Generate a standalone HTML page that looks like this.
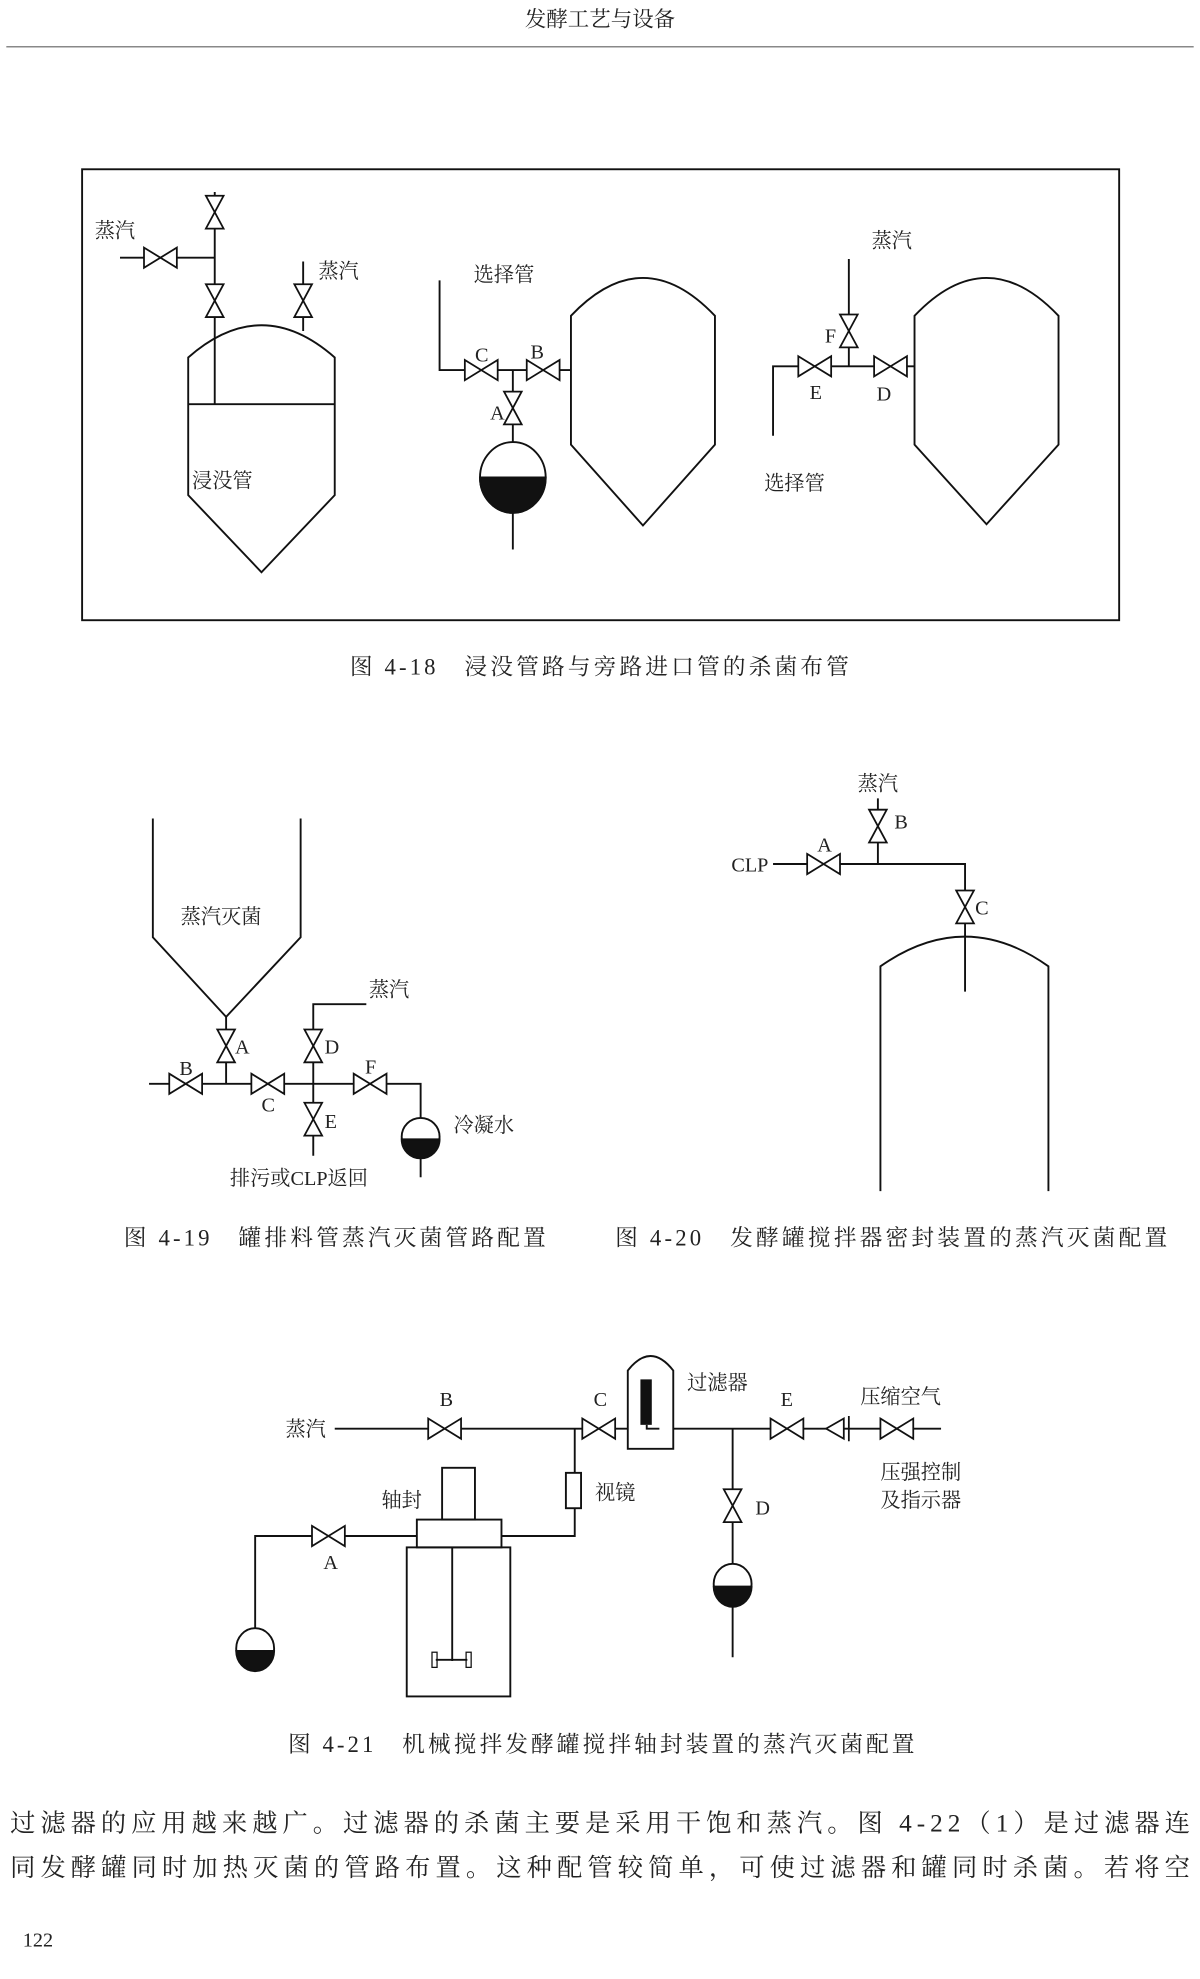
<!DOCTYPE html>
<html><head><meta charset="utf-8"><style>
html,body{margin:0;padding:0;background:#fff;}
svg{display:block;}
text{font-family:"Liberation Serif","Noto Serif CJK SC",serif;fill:#222;}
</style></head><body>
<svg width="1200" height="1979" viewBox="0 0 950 1566.7" xmlns="http://www.w3.org/2000/svg">
<defs>
<g id="hv"><polygon points="-13,-8 13,8 13,-8 -13,8" fill="#fff" stroke="#111" stroke-width="1.4"/></g>
<g id="vv"><polygon points="-7,-13 7,13 -7,13 7,-13" fill="#fff" stroke="#111" stroke-width="1.4"/></g>
</defs>
<g stroke="#111" stroke-width="1.5" fill="none">
<line x1="5" y1="37" x2="945" y2="37" stroke="#888" stroke-width="1.2"/>
<rect x="65" y="134" width="821" height="357"/>
<path d="M149,392 V283 Q207,232 265,283 V392 L207,453 Z"/>
<line x1="149" y1="320" x2="265" y2="320"/>
<line x1="170" y1="320" x2="170" y2="152"/>
<line x1="95" y1="204" x2="170" y2="204"/>
<line x1="240" y1="207" x2="240" y2="262"/>
<path d="M452,352 V250 Q509,190 566,250 V352 L509,416 Z"/>
<polyline points="348,222 348,293 452,293"/>
<line x1="406" y1="293" x2="406" y2="352"/>
<line x1="406" y1="404" x2="406" y2="435"/>
<path d="M724,352 V250 Q781,190 838,250 V352 L781,415 Z"/>
<polyline points="612,345 612,290 724,290"/>
<line x1="672" y1="290" x2="672" y2="205"/>
<polyline points="121,648 121,742 179,805 238,742 238,648"/>
<line x1="179" y1="805" x2="179" y2="858"/>
<polyline points="118,858 333,858 333,885"/>
<line x1="333" y1="915" x2="333" y2="932"/>
<polyline points="290,795 248,795 248,915"/>
<path d="M697,943 V765 Q764,718 830,765 V943"/>
<polyline points="612,684 764,684 764,785"/>
<line x1="695" y1="684" x2="695" y2="632"/>
<line x1="265" y1="1131" x2="497" y2="1131"/>
<line x1="533" y1="1131" x2="745" y2="1131"/>
<polyline points="455,1131 455,1216 397,1216"/>
<rect x="448" y="1166" width="12" height="28" fill="#fff"/>
<path d="M497,1147 V1085 Q515,1062 533,1085 V1147 Z"/>
<polyline points="512,1128 512,1131 522,1131"/>
<line x1="580" y1="1131" x2="580" y2="1312"/>
<rect x="350" y="1162" width="26" height="41"/>
<rect x="330" y="1203" width="67" height="22"/>
<rect x="322" y="1225" width="82" height="118"/>
<line x1="358" y1="1225" x2="358" y2="1315"/>
<line x1="345" y1="1314" x2="370" y2="1314"/>
<rect x="342" y="1308" width="4" height="12" stroke-width="1"/>
<rect x="369" y="1308" width="4" height="12" stroke-width="1"/>
<polyline points="330,1216 202,1216 202,1292"/>
</g>
<rect x="507" y="1092" width="9" height="36" fill="#111"/>
<g stroke="#111" stroke-width="1.5">
<ellipse cx="406" cy="378" rx="26" ry="28" fill="#fff"/>
<path d="M380,378 A26,28 0 0 0 432,378 Z" fill="#111"/>
<ellipse cx="333" cy="900" rx="15" ry="15" fill="#fff"/>
<path d="M318,902 A15,15 0 0 0 348,902 Z" fill="#111"/>
<ellipse cx="580" cy="1254" rx="15" ry="16" fill="#fff"/>
<path d="M565,1256 A15,16 0 0 0 595,1256 Z" fill="#111"/>
<ellipse cx="202" cy="1305" rx="15" ry="16" fill="#fff"/>
<path d="M187,1307 A15,16 0 0 0 217,1307 Z" fill="#111"/>
</g>
<use href="#vv" x="170" y="168"/><use href="#vv" x="170" y="238"/>
<use href="#hv" x="127" y="204"/><use href="#vv" x="240" y="238"/>
<use href="#hv" x="381" y="293"/><use href="#hv" x="430" y="293"/><use href="#vv" x="406" y="323"/>
<use href="#hv" x="645" y="290"/><use href="#hv" x="705" y="290"/><use href="#vv" x="672" y="262"/>
<use href="#vv" x="179" y="828"/><use href="#hv" x="147" y="858"/><use href="#hv" x="212" y="858"/>
<use href="#vv" x="248" y="828"/><use href="#vv" x="248" y="886"/><use href="#hv" x="293" y="858"/>
<use href="#hv" x="652" y="684"/><use href="#vv" x="695" y="654"/><use href="#vv" x="764" y="718"/>
<use href="#hv" x="352" y="1131"/><use href="#hv" x="474" y="1131"/><use href="#hv" x="623" y="1131"/>
<use href="#hv" x="710" y="1131"/><use href="#vv" x="580" y="1192"/><use href="#hv" x="260" y="1216"/>
<g stroke="#111" stroke-width="1.4" fill="#fff"><polygon points="654,1131 668,1123 668,1139"/><line x1="672" y1="1121" x2="672" y2="1141"/></g>
<text x="475" y="21" font-size="17" text-anchor="middle">发酵工艺与设备</text>
<g font-size="16">
<text x="75" y="188">蒸汽</text><text x="252" y="220">蒸汽</text><text x="152" y="386">浸没管</text>
<text x="375" y="223">选择管</text><text x="376" y="286">C</text><text x="420" y="284">B</text><text x="388" y="332">A</text>
<text x="690" y="196">蒸汽</text><text x="653" y="271">F</text><text x="641" y="316">E</text><text x="694" y="317">D</text><text x="605" y="388">选择管</text>
<text x="143" y="731">蒸汽灭菌</text><text x="292" y="789">蒸汽</text><text x="186" y="834">A</text><text x="142" y="851">B</text>
<text x="207" y="880">C</text><text x="257" y="834">D</text><text x="257" y="893">E</text><text x="289" y="850">F</text>
<text x="359" y="896">冷凝水</text><text x="182" y="938">排污或CLP返回</text>
<text x="679" y="626">蒸汽</text><text x="708" y="656">B</text><text x="647" y="674">A</text><text x="579" y="690">CLP</text><text x="772" y="724">C</text>
<text x="226" y="1137">蒸汽</text><text x="348" y="1113">B</text><text x="470" y="1113">C</text><text x="544" y="1100">过滤器</text>
<text x="618" y="1113">E</text><text x="681" y="1111">压缩空气</text><text x="697" y="1171">压强控制</text><text x="697" y="1193">及指示器</text>
<text x="471" y="1187">视镜</text><text x="302" y="1193">轴封</text><text x="598" y="1199">D</text><text x="256" y="1242">A</text>
</g>
<g font-size="18">
<text x="277" y="534" textLength="395" lengthAdjust="spacing">图 4-18　浸没管路与旁路进口管的杀菌布管</text>
<text x="98" y="986" textLength="334" lengthAdjust="spacing">图 4-19　罐排料管蒸汽灭菌管路配置</text>
<text x="487" y="986" textLength="437" lengthAdjust="spacing">图 4-20　发酵罐搅拌器密封装置的蒸汽灭菌配置</text>
<text x="228" y="1387" textLength="496" lengthAdjust="spacing">图 4-21　机械搅拌发酵罐搅拌轴封装置的蒸汽灭菌配置</text>
</g>
<g font-size="20">
<text x="8" y="1450" textLength="934" lengthAdjust="spacing">过滤器的应用越来越广。过滤器的杀菌主要是采用干饱和蒸汽。图 4-22（1）是过滤器连</text>
<text x="8" y="1485" textLength="934" lengthAdjust="spacing">同发酵罐同时加热灭菌的管路布置。这种配管较简单，可使过滤器和罐同时杀菌。若将空</text>
</g>
<text x="18" y="1541" font-size="16">122</text>
</svg>
</body></html>
